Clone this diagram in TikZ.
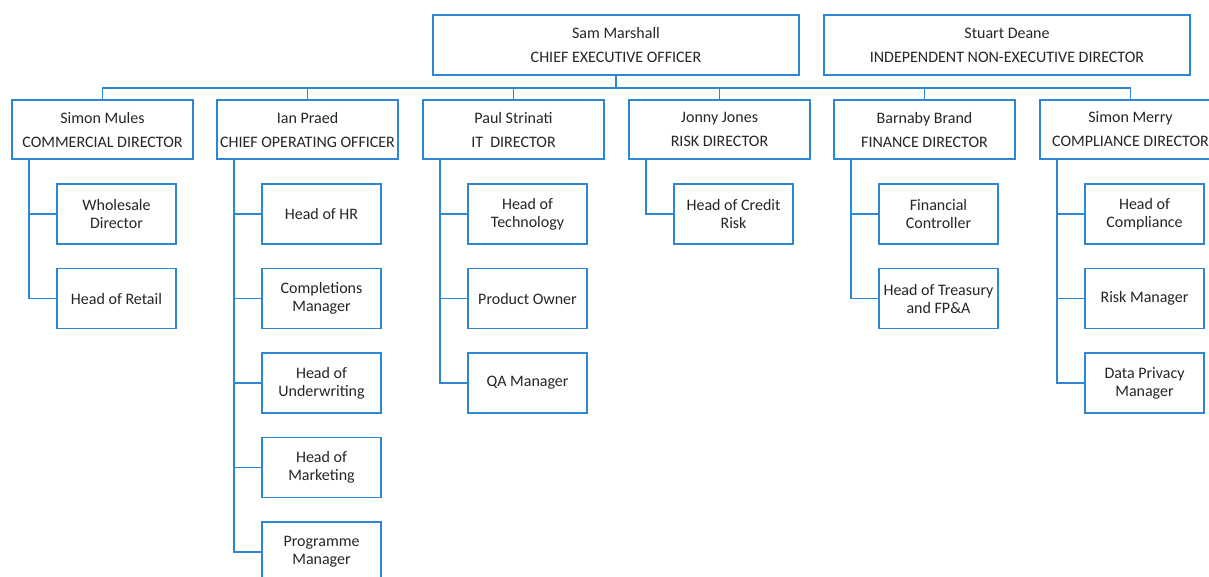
\documentclass[tikz,border=0pt]{standalone}
\usepackage{fontspec}
\setmainfont{Carlito}
\definecolor{orgblue}{RGB}{46,134,214}
\definecolor{orgtext}{RGB}{38,38,38}
\tikzset{
  topbox/.style={draw=orgblue, line width=1.7pt, fill=white, inner sep=0pt,
    minimum width=366pt, minimum height=60pt, align=center, text=orgtext,
    font=\fontsize{16}{18}\selectfont},
  dirbox/.style={topbox, minimum width=181pt, minimum height=59pt},
  staffbox/.style={topbox, minimum width=119pt, minimum height=60pt},
  link/.style={draw=orgblue, line width=1.7pt}
}
\begin{document}
\begin{tikzpicture}[x=1pt,y=-1pt]
\useasboundingbox (0,0) rectangle (1209,576);
\clip (0,0) rectangle (1209,576);
\node[topbox] (ceo) at (616,45){Sam Marshall\\[6pt]CHIEF EXECUTIVE OFFICER};
\node[topbox] (deane) at (1007,45){Stuart Deane\\[6pt]INDEPENDENT NON-EXECUTIVE DIRECTOR};

\node[dirbox] (mules) at (102.5,129.5){Simon Mules\\[6pt]COMMERCIAL DIRECTOR};
\node[dirbox] (praed) at (307.5,129.5){Ian Praed\\[6pt]CHIEF OPERATING OFFICER};
\node[dirbox] (strinati) at (513.5,129.5){Paul Strinati\\[6pt]IT~~DIRECTOR};
\node[dirbox] (jones) at (719.5,129.5){Jonny Jones\\[6pt]RISK DIRECTOR};
\node[dirbox] (brand) at (924.5,129.5){Barnaby Brand\\[6pt]FINANCE DIRECTOR};
\node[dirbox] (merry) at (1130.5,129.5){Simon Merry\\[6pt]COMPLIANCE DIRECTOR};
\draw[link](ceo.south) -- ++(0,12) -| (mules.north);
\draw[link](ceo.south) -- ++(0,12) -| (praed.north);
\draw[link](ceo.south) -- ++(0,12) -| (strinati.north);
\draw[link](ceo.south) -- ++(0,12) -| (jones.north);
\draw[link](ceo.south) -- ++(0,12) -| (brand.north);
\draw[link](ceo.south) -- ++(0,12) -| (merry.north);

\node[staffbox] (wholesale) at (116.5,214){Wholesale\\Director};
\node[staffbox] (retail) at (116.5,298.5){Head of Retail};
\draw[link]([xshift=18pt]mules.south west) |- (wholesale.west);
\draw[link]([xshift=18pt]mules.south west) |- (retail.west);

\node[staffbox] (hr) at (321.5,214){Head of HR};
\node[staffbox] (completions) at (321.5,298.5){Completions\\Manager};
\node[staffbox] (underwriting) at (321.5,383){Head of\\Underwriting};
\node[staffbox] (marketing) at (321.5,467.5){Head of\\Marketing};
\node[staffbox] (programme) at (321.5,552){Programme\\Manager};
\draw[link]([xshift=18pt]praed.south west) |- (hr.west);
\draw[link]([xshift=18pt]praed.south west) |- (completions.west);
\draw[link]([xshift=18pt]praed.south west) |- (underwriting.west);
\draw[link]([xshift=18pt]praed.south west) |- (marketing.west);
\draw[link]([xshift=18pt]praed.south west) |- (programme.west);

\node[staffbox] (technology) at (527.5,214){Head of\\Technology};
\node[staffbox] (product) at (527.5,298.5){Product Owner};
\node[staffbox] (qa) at (527.5,383){QA Manager};
\draw[link]([xshift=18pt]strinati.south west) |- (technology.west);
\draw[link]([xshift=18pt]strinati.south west) |- (product.west);
\draw[link]([xshift=18pt]strinati.south west) |- (qa.west);

\node[staffbox] (creditrisk) at (733.5,214){Head of Credit\\Risk};
\draw[link]([xshift=18pt]jones.south west) |- (creditrisk.west);

\node[staffbox] (fincontrol) at (938.5,214){Financial\\Controller};
\node[staffbox] (treasury) at (938.5,298.5){Head of Treasury\\and FP\&A};
\draw[link]([xshift=18pt]brand.south west) |- (fincontrol.west);
\draw[link]([xshift=18pt]brand.south west) |- (treasury.west);

\node[staffbox] (compliance) at (1144.5,214){Head of\\Compliance};
\node[staffbox] (riskmgr) at (1144.5,298.5){Risk Manager};
\node[staffbox] (privacy) at (1144.5,383){Data Privacy\\Manager};
\draw[link]([xshift=18pt]merry.south west) |- (compliance.west);
\draw[link]([xshift=18pt]merry.south west) |- (riskmgr.west);
\draw[link]([xshift=18pt]merry.south west) |- (privacy.west);
\end{tikzpicture}
\end{document}
